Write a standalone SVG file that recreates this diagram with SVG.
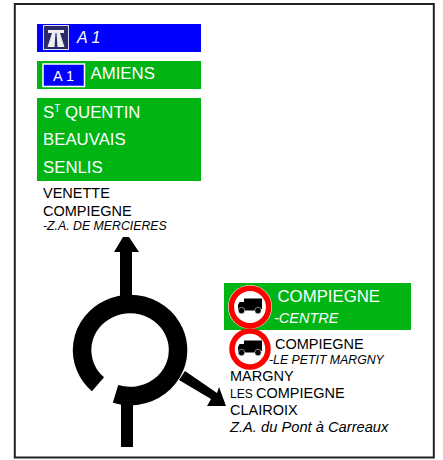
<svg xmlns="http://www.w3.org/2000/svg" width="443" height="460" viewBox="0 0 443 460">
<style>
text{font-family:"Liberation Sans",Arial,sans-serif}
.w{fill:#fff}.k{fill:#000}.i{font-style:italic}
.g{fill:#00b414}
.f16{font-size:16.800px}.f14{font-size:14.500px}.f12{font-size:12.300px}
</style>
<defs>
<g id="truck"><path d="M-6 -8.500H12V2H5V3.500H-5V2.500H-12V-2L-10.500 -5H-6Z" fill="#000"/><circle cx="-8.500" cy="3.500" r="3.200" fill="#000" stroke="#fff" stroke-width=".5"/><circle cx="8" cy="3.500" r="3.200" fill="#000" stroke="#fff" stroke-width=".5"/></g>
</defs>
<rect id="frame" x="14.800" y="4" width="419" height="453.500" fill="#fff" stroke="#222" stroke-width="2"/>
<g id="connectors">
<path d="M115.500 393.900A48 46 0 1 0 98 384.300" fill="none" stroke="#000" stroke-width="18.500"/>
<path d="M120 297V252H114L123 237H129L139 252H132V297Z" fill="#000"/>
<rect x="121" y="400" width="12" height="47" fill="#000"/>
<path d="M185 371L217 393L219 387L226 406L207 406L211 399L179 380Z" fill="#000"/>
</g>
<g id="node-a1">
<rect x="37" y="24" width="164" height="28" fill="#00f"/>
<rect x="43.500" y="25.500" width="25" height="24" fill="#2a2a6a" stroke="#dde" stroke-width="1"/>
<path d="M48 30H64V33H60L64.500 47H57.500L56.500 33H55.500L54.500 47H47.500L52 33H48Z" fill="#eee"/>
<text x="77" y="43" class="w i f16" style="font-size:16px">A 1</text>
</g>
<g id="node-amiens">
<rect x="37" y="61" width="164" height="28" class="g"/>
<rect x="43" y="64" width="41.500" height="22.500" fill="#00f" stroke="#fff" stroke-width="1.500"/>
<text x="53" y="81" class="w f14">A 1</text>
<text x="90.500" y="79.300" class="w f16">AMIENS</text>
</g>
<g id="node-destinations">
<rect x="37" y="98" width="164" height="83" class="g"/>
<text x="43" y="118" class="w f16">S<tspan font-size="10" dy="-6">T</tspan><tspan dy="6"> QUENTIN</tspan></text>
<text x="43" y="145" class="w f16">BEAUVAIS</text>
<text x="43" y="173" class="w f16">SENLIS</text>
</g>
<g id="node-venette">
<text x="43" y="198" class="k f14">VENETTE</text>
<text x="43" y="215.700" class="k f14">COMPIEGNE</text>
<text x="43" y="230" class="k i f12">-Z.A. DE MERCIERES</text>
</g>
<g id="node-compiegne-centre">
<rect x="224" y="283" width="187" height="47" class="g"/>
<circle cx="250" cy="307" r="22" fill="#fff"/>
<circle cx="250" cy="307" r="18.700" fill="#fff" stroke="#f00" stroke-width="5.500"/>
<use href="#truck" x="250" y="307"/>
<text x="277.500" y="302" class="w f16">COMPIEGNE</text>
<text x="274" y="323" class="w i f14">-CENTRE</text>
</g>
<g id="node-compiegne-petit">
<circle cx="250" cy="349" r="18" fill="#fff" stroke="#f00" stroke-width="5.500"/>
<use href="#truck" x="250" y="349"/>
<text x="275" y="349" class="k f14">COMPIEGNE</text>
<text x="269" y="364" class="k i f12">-LE PETIT MARGNY</text>
</g>
<g id="node-margny">
<text x="230" y="380.700" class="k f14">MARGNY</text>
<text x="230" y="397.700" class="k f14"><tspan font-size="12">LES </tspan>COMPIEGNE</text>
<text x="230" y="415" class="k f14">CLAIROIX</text>
<text x="230" y="431.700" class="k i f14" style="font-size:14.700px">Z.A. du Pont à Carreaux</text>
</g>
</svg>
